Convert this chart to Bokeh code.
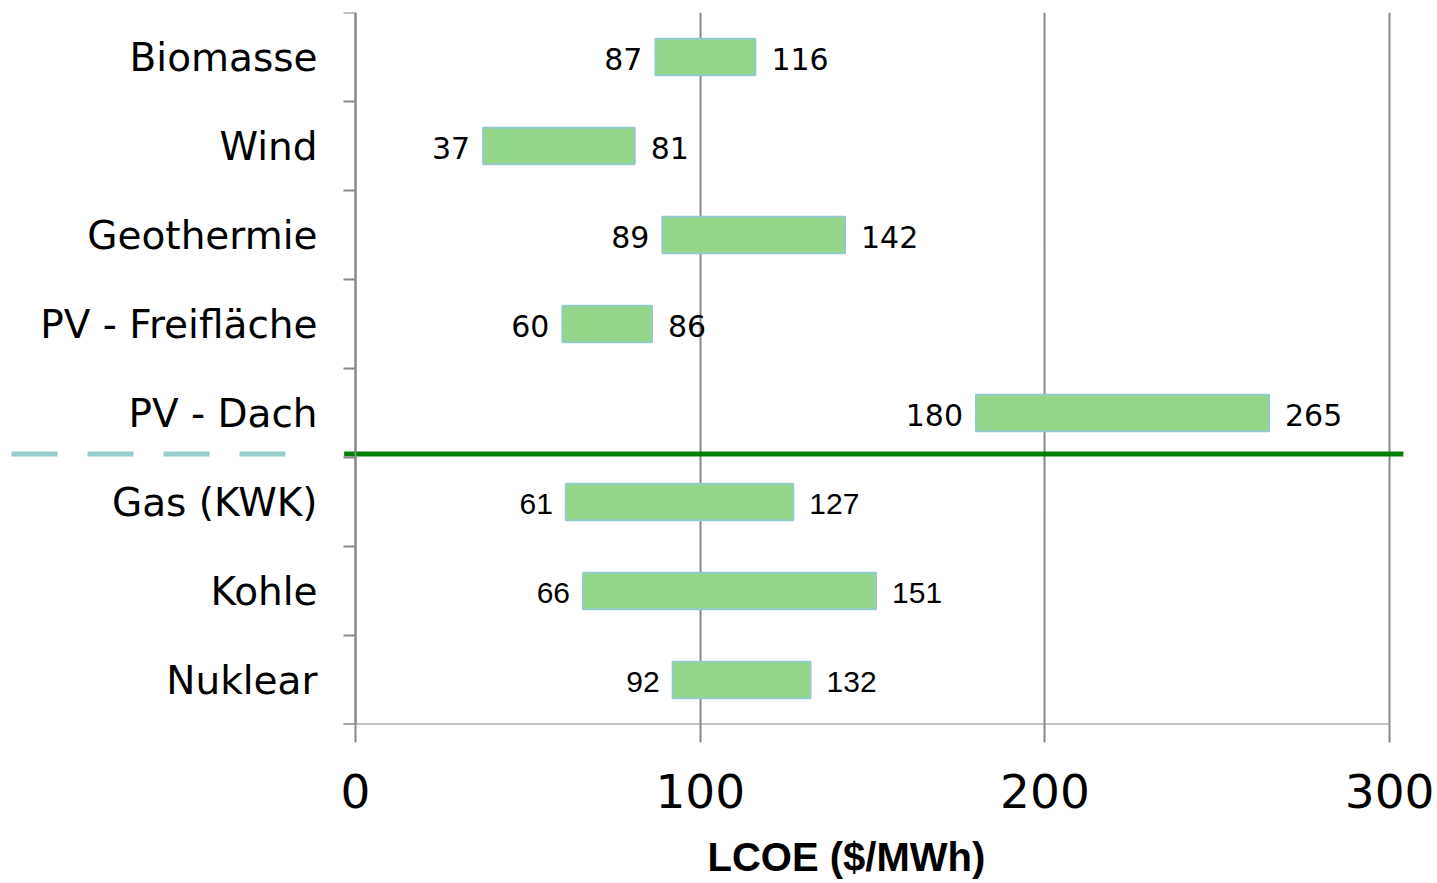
from bokeh.plotting import figure
from bokeh.models import Range1d, FixedTicker, ColumnDataSource, Title
from bokeh.embed import file_html
from bokeh.resources import INLINE

# ---- data (top to bottom) ----
categories = ["Biomasse", "Wind", "Geothermie", "PV - Freifläche", "PV - Dach",
              "Gas (KWK)", "Kohle", "Nuklear"]
lcoe_low = [87, 37, 89, 60, 180, 61, 66, 92]
lcoe_high = [116, 81, 142, 86, 265, 127, 151, 132]
x_ticks = [0, 100, 200, 300]
n_renewable = 5   # first five rows are renewables, separated by the green line

n = len(categories)
y_pos = [n - i - 0.5 for i in range(n)]
fonts = ["DejaVu Sans" if i < n_renewable else "Liberation Sans" for i in range(n)]
src = ColumnDataSource(dict(y=y_pos, low=lcoe_low, high=lcoe_high,
                            low_txt=[str(v) for v in lcoe_low],
                            high_txt=[str(v) for v in lcoe_high],
                            font=fonts))

GRAY = "#888888"
p = figure(frame_width=1395, frame_height=712, output_backend="svg", toolbar_location=None,
           x_range=Range1d(-100.1, 304.6), y_range=Range1d(0, n),
           min_border_left=10, min_border_right=32, min_border_top=12, min_border_bottom=159)
p.outline_line_color = None
p.background_fill_color = "white"
p.border_fill_color = "white"

# grid
p.ygrid.visible = False
p.xgrid.ticker = FixedTicker(ticks=x_ticks)
p.xgrid.grid_line_color = GRAY
p.xgrid.grid_line_width = 2

# bottom axis
xa = p.xaxis[0]
xa.ticker = FixedTicker(ticks=x_ticks)
xa.axis_line_color = None
xa.major_tick_out = 18
xa.major_tick_in = 0
xa.major_tick_line_color = GRAY
xa.major_tick_line_width = 2
xa.minor_tick_line_color = None
xa.major_label_text_font = "DejaVu Sans"
xa.major_label_text_font_size = "47px"
xa.major_label_text_color = "black"
xa.major_label_standoff = 31

# left axis at x = 0
ya = p.yaxis[0]
ya.fixed_location = 0
ya.ticker = FixedTicker(ticks=y_pos, minor_ticks=list(range(n + 1)))
ya.major_label_overrides = {y: c for y, c in zip(y_pos, categories)}
ya.axis_line_color = GRAY
ya.axis_line_width = 2
ya.major_tick_out = 0
ya.major_tick_in = 0
ya.minor_tick_out = 12
ya.minor_tick_in = 0
ya.minor_tick_line_color = GRAY
ya.minor_tick_line_width = 2
ya.major_label_text_font = "DejaVu Sans"
ya.major_label_text_font_size = "39px"
ya.major_label_text_color = "black"
ya.major_label_standoff = 26

# bottom axis line
p.segment(x0=[-3.5], y0=[0], x1=[x_ticks[-1]], y1=[0], line_color=GRAY, line_width=2)

# bars
p.hbar(y="y", left="low", right="high", height=0.41, source=src,
       fill_color="#93D68A", line_color="#93CBCB", line_width=2)

# value labels
p.text(x="low", y="y", text="low_txt", source=src, x_offset=-13, y_offset=2,
       text_align="right", text_baseline="middle", text_font="font",
       text_font_size="30px", text_color="black")
p.text(x="high", y="y", text="high_txt", source=src, x_offset=16, y_offset=2,
       text_align="left", text_baseline="middle", text_font="font",
       text_font_size="30px", text_color="black")

# separator between renewables and conventional
sep_y = n - n_renewable + 0.04
p.segment(x0=[-3.3], y0=[sep_y], x1=[304], y1=[sep_y], line_color="#008000", line_width=5)
p.segment(x0=[-99.8], y0=[sep_y], x1=[-16.2], y1=[sep_y], line_color="#99CCCC",
          line_width=5, line_dash="46 30")

# axis title
p.add_layout(Title(text="LCOE ($/MWh)", align="left", offset=697, standoff=44,
                   text_font="Liberation Sans", text_font_style="bold",
                   text_font_size="40px", text_color="black"), "below")

open("out.html", "w").write(file_html(p, INLINE))
